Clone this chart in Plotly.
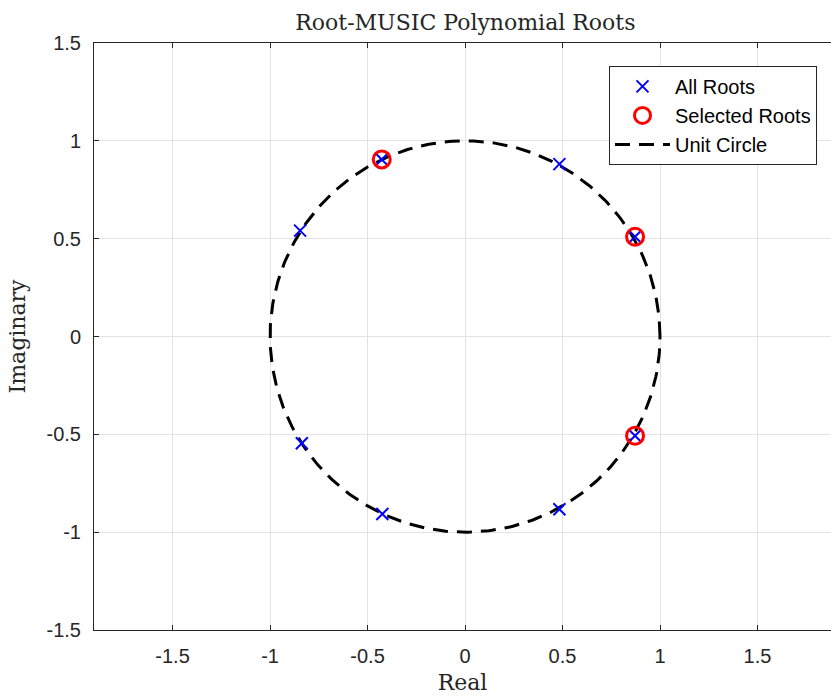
import numpy as np
import plotly.graph_objects as go

# All polynomial roots (real, imaginary)
all_re = [-0.427, 0.484, -0.846, 0.872, 0.872, -0.837, -0.424, 0.484]
all_im = [0.905, 0.881, 0.541, 0.510, -0.507, -0.546, -0.907, -0.883]

# Selected roots
sel_re = [-0.427, 0.872, 0.872]
sel_im = [0.905, 0.510, -0.507]

x_ticks = [-1.5, -1, -0.5, 0, 0.5, 1, 1.5]
y_ticks = [-1.5, -1, -0.5, 0, 0.5, 1, 1.5]
tick_text = ["-1.5", "-1", "-0.5", "0", "0.5", "1", "1.5"]

theta = np.linspace(0, 2 * np.pi, 400)
circ_x = np.cos(theta)
circ_y = np.sin(theta)

SERIF = "DejaVu Serif, Liberation Serif, serif"
SANS = "Liberation Sans, Arial, sans-serif"

fig = go.Figure()
fig.add_trace(go.Scatter(
    x=circ_x, y=circ_y, mode="lines", name="Unit Circle",
    line=dict(color="black", width=3, dash="15px,9px"),
    legendrank=3,
))
fig.add_trace(go.Scatter(
    x=all_re, y=all_im, mode="markers", name="All Roots",
    marker=dict(symbol="x-thin", size=12, line=dict(color="#0000ff", width=2)),
    legendrank=1,
))
fig.add_trace(go.Scatter(
    x=sel_re, y=sel_im, mode="markers", name="Selected Roots",
    marker=dict(symbol="circle-open", size=17, color="#ff0000",
                line=dict(color="#ff0000", width=3)),
    legendrank=2,
))

axis_common = dict(
    showgrid=True, gridcolor="#e3e3e3", gridwidth=1,
    zeroline=False, showline=True, linecolor="#262626", linewidth=1,
    ticks="inside", ticklen=5, tickcolor="#262626",
    tickfont=dict(family=SANS, size=20, color="#262626"),
)

fig.update_layout(
    width=831, height=698,
    margin=dict(l=94, r=0, t=43, b=68),
    paper_bgcolor="white", plot_bgcolor="white",
    title=dict(text="Root-MUSIC Polynomial Roots", x=0.56, xanchor="center",
               y=0.968, yanchor="middle",
               font=dict(family=SERIF, size=22, color="#262626")),
    xaxis=dict(range=[-1.903, 1.877], tickvals=x_ticks, ticktext=tick_text,
               mirror="ticks", ticklabelstandoff=8,
               title=dict(text="Real", standoff=8,
                          font=dict(family=SERIF, size=22, color="#262626")),
               **axis_common),
    yaxis=dict(range=[-1.5, 1.5], tickvals=y_ticks, ticktext=tick_text,
               mirror=False, ticklabelstandoff=8,
               title=dict(text="Imaginary", standoff=14,
                          font=dict(family=SERIF, size=22, color="#262626")),
               **axis_common),
    legend=dict(x=0.981, y=0.961, xanchor="right", yanchor="top",
                bgcolor="white", bordercolor="#262626", borderwidth=1,
                font=dict(family=SANS, size=20, color="black"),
                tracegroupgap=0, itemwidth=55),
    showlegend=True,
)

fig.write_html("out.html")
